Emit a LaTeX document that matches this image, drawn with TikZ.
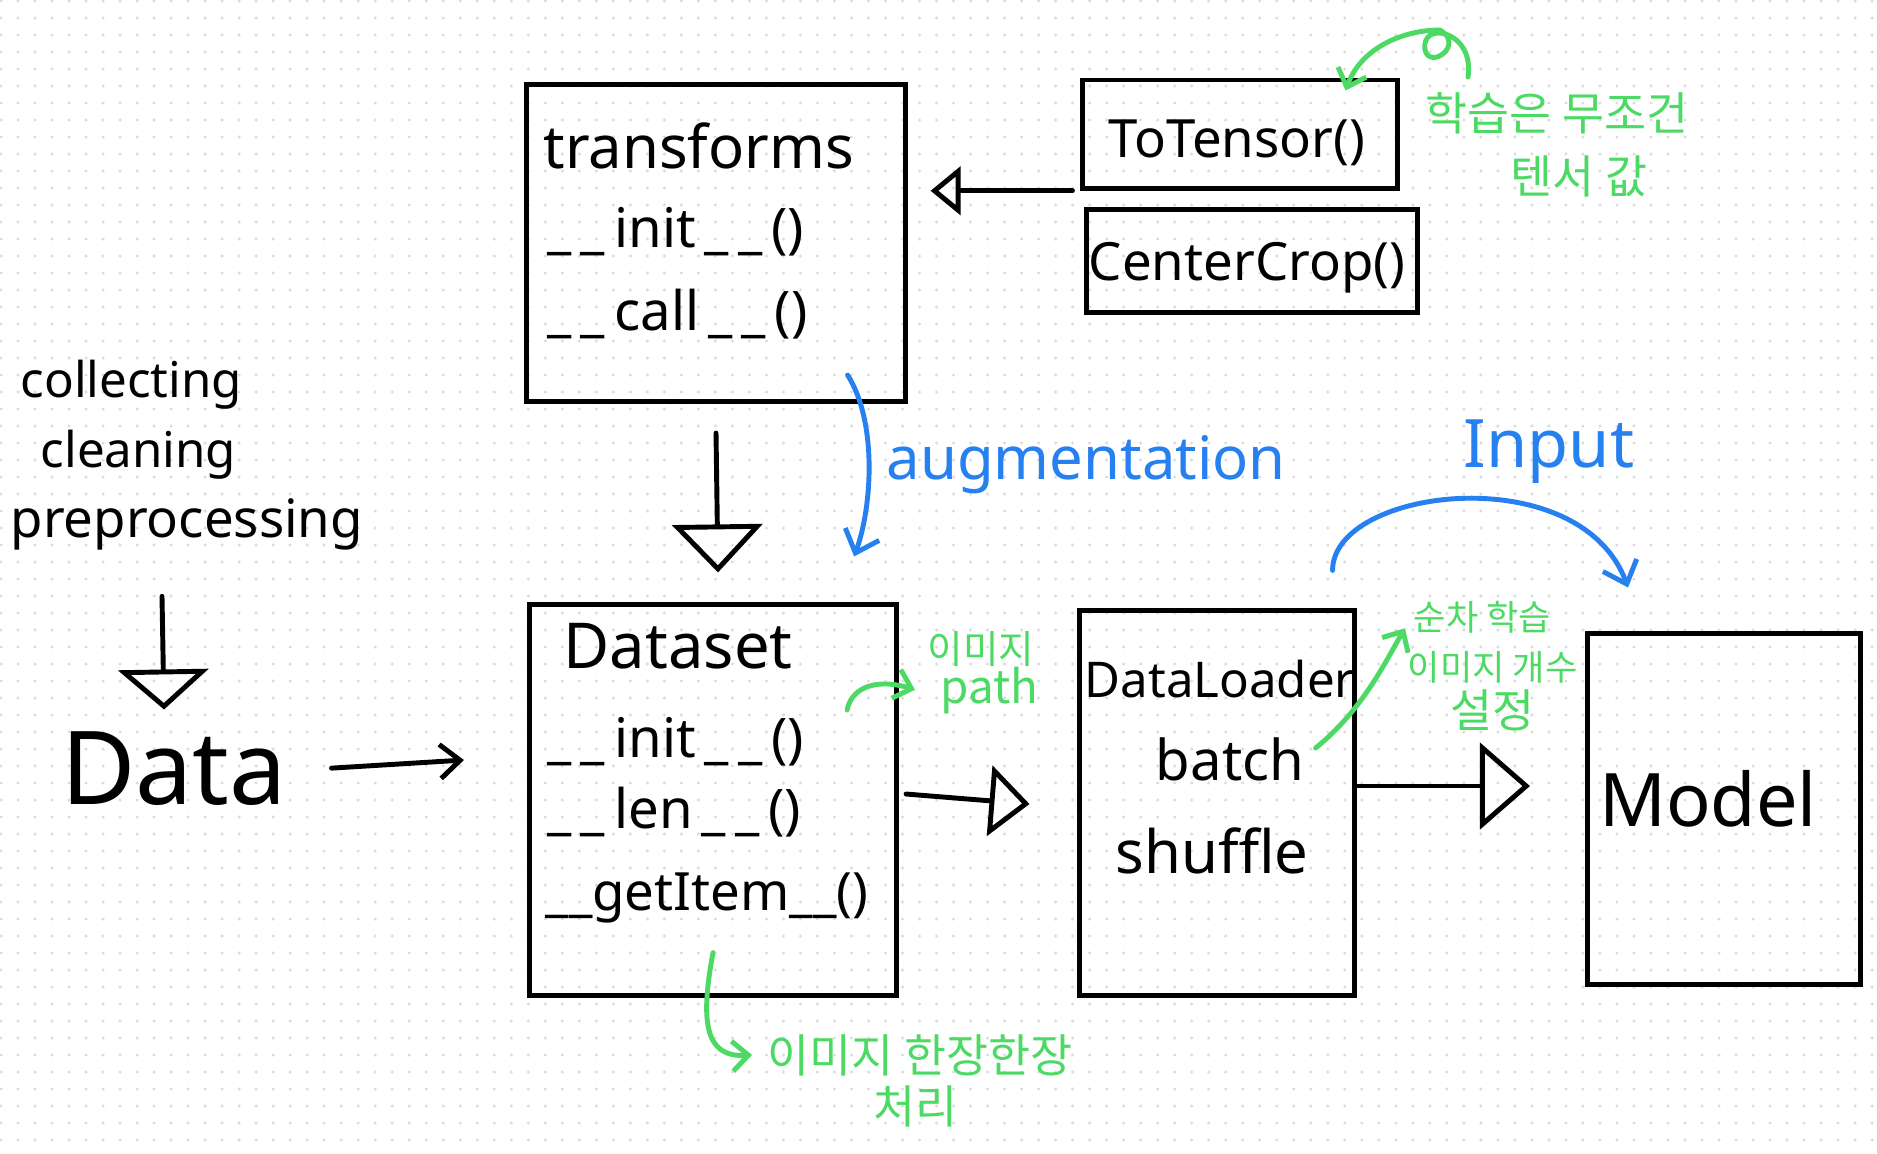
\documentclass[tikz,border=0pt]{standalone}
\usepackage{fontspec}
\setmainfont{Noto Sans}
\newfontfamily\cjk{Noto Sans CJK KR}
\usetikzlibrary{positioning, arrows.meta, calc}
\definecolor{skgreen}{HTML}{4CD964}
\definecolor{skblue}{HTML}{2680F0}
\definecolor{skdot}{HTML}{DCDCDC}

\begin{document}
\begin{tikzpicture}[x=0.01cm, y=-0.01cm,
    bx/.style={draw, line width=1.4pt, inner sep=0pt},
    lbl/.style={inner sep=0pt, font=\fontsize{17}{20}\selectfont},
    mth/.style={inner sep=0pt, anchor=base west, font=\fontsize{15.5}{18}\selectfont},
    kr/.style={inner sep=0pt, anchor=base west, text=skgreen, font=\cjk\fontsize{13}{15}\selectfont},
    sk/.style={line width=1.4pt, line cap=round, line join=round},
    garr/.style={sk, skgreen, -{Straight Barb[length=0.16cm, width=0.3cm]}},
    barr/.style={sk, skblue, -{Straight Barb[length=0.2cm, width=0.36cm]}}]
  \fill[white] (0,0) rectangle (1877,1153);
  \useasboundingbox (0,0) rectangle (1877,1153);
  \foreach \j in {0,...,67}
    \draw[skdot, line width=0.034cm, line cap=round, dash pattern=on 0pt off 0.17cm] (1,17*\j+1) -- (1877,17*\j+1);

  % boxes
  \node[bx, minimum width=3.78cm, minimum height=3.17cm] (tf) at (716,243) {};
  \node[bx, minimum width=3.14cm, minimum height=1.08cm] (tt) at (1240,134) {};
  \node[bx, minimum width=3.30cm, minimum height=1.03cm] (cc) at (1252,261) {};
  \node[bx, minimum width=3.67cm, minimum height=3.90cm] (ds) at (713,800) {};
  \node[bx, minimum width=2.74cm, minimum height=3.84cm] (dl) at (1217,803) {};
  \node[bx, minimum width=2.73cm, minimum height=3.50cm] (md) at (1724,809) {};

  % labels
  \node[lbl, anchor=base west] (tfname) at (543,168) {transforms};
  \node[mth] (tfinit) at (547,247) {\_\,\_\,init\,\_\,\_\,()};
  \node[mth] (tfcall) at (547,330) {\_\,\_\,call\,\_\,\_\,()};
  \node[lbl, anchor=base, font=\fontsize{15}{18}\selectfont] (ttname) at (1237,157) {ToTensor()};
  \node[lbl, anchor=base, font=\fontsize{15}{18}\selectfont] (ccname) at (1247,280) {CenterCrop()};
  \node[lbl, anchor=base west, font=\fontsize{18}{20}\selectfont] (dsname) at (563,668) {Dataset};
  \node[mth] (dsinit) at (547,757) {\_\,\_\,init\,\_\,\_\,()};
  \node[mth] (dslen) at (547,828) {\_\,\_\,len\,\_\,\_\,()};
  \node[mth, font=\fontsize{15}{18}\selectfont] (dsget) at (545,910) {\_\_getItem\_\_()};
  \node[lbl, anchor=base, font=\fontsize{14}{16}\selectfont] (dlname) at (1220,697) {DataLoader};
  \node[lbl, anchor=base, font=\fontsize{16}{18}\selectfont] (dlbatch) at (1230,780) {batch};
  \node[lbl, anchor=base, font=\fontsize{17}{20}\selectfont] (dlshuf) at (1212,873) {shuffle};
  \node[lbl, anchor=base, font=\fontsize{21}{24}\selectfont] (mdname) at (1708,826) {Model};
  \node[lbl, anchor=base, font=\fontsize{29}{32}\selectfont] (data) at (174,804) {Data};
  \node[lbl, anchor=base west, font=\fontsize{14}{16}\selectfont] (col) at (20,397) {collecting};
  \node[lbl, anchor=base west, font=\fontsize{14}{16}\selectfont] (cln) at (40,467) {cleaning};
  \node[lbl, anchor=base west, font=\fontsize{15}{18}\selectfont] (pre) at (10,537) {preprocessing};
  \node[lbl, anchor=base west, text=skblue] (aug) at (886,479) {augmentation};
  \node[lbl, anchor=base west, text=skblue, font=\fontsize{19}{22}\selectfont] (inp) at (1463,467) {Input};

  % notes
  \node[kr] (nta) at (1425,130) {학습은 무조건};
  \node[kr] (ntb) at (1510,193) {텐서 값};
  \node[kr, font=\cjk\fontsize{11}{13}\selectfont] (npa) at (927,663) {이미지};
  \node[kr] (npb) at (940,703) {path};
  \node[kr, font=\cjk\fontsize{10}{12}\selectfont] (nsa) at (1413,630) {순차 학습};
  \node[kr, font=\cjk\fontsize{10}{12}\selectfont] (nsb) at (1407,680) {이미지 개수};
  \node[kr] (nsc) at (1450,727) {설정};
  \node[kr] (nia) at (767,1072) {이미지 한장한장};
  \node[kr] (nib) at (873,1123) {처리};

  % flow
  \coordinate (tc) at ($(tt.south west)!0.5!(cc.north west)$);
  \draw[sk, -{Triangle[open, length=0.3cm, width=0.48cm]}] ($(tc)+(-10,-8)$) -- ($(tf.east |- tc)+(23,-8)$);
  \draw[sk, -{Triangle[open, length=0.48cm, width=0.9cm]}] ($(tf.south)+(0,29)$) -- ($(ds.north)+(5,-30)$);
  \draw[sk, -{Triangle[open, length=0.4cm, width=0.9cm]}] ($(pre.south -| data.north)+(-12,46)$) -- ($(data.north)+(-10,-21)$);
  \draw[sk, -{Straight Barb[length=0.2cm, width=0.34cm]}] ($(data.east)+(44,0)$) -- ($(ds.west)+(-63,-40)$);
  \draw[sk, -{Triangle[open, length=0.4cm, width=0.7cm]}] ($(ds.east)+(7,-6)$) -- ($(dl.west)+(-48,1)$);
  \draw[sk, -{Triangle[open, length=0.5cm, width=0.86cm]}] ($(dl.east)+(0,-17)$) -- ($(md.west |- dl.east)+(-55,-17)$);

  \draw[barr] ($(tf.south east)+(-60,-29)$) .. controls +(30,47) and +(18,-49) .. ($(ds.north east)+(-45,-46)$);
  \draw[barr] ($(dl.north east)+(-24,-38)$) .. controls +(0,-83) and +(-48,-130) .. ($(md.north)+(-96,-44)$);

  \coordinate (ga) at (1468,77);
  \draw[garr] (ga) .. controls (1475,30) and (1420,20) .. (1425,50) .. controls (1430,70) and (1465,45) .. (1440,30) .. controls (1400,30) and (1360,50) .. ($(tt.north east)+(-54,13)$);
  \draw[garr] ($(ds.east)+(-52,-90)$) .. controls +(5,-25) and +(-35,-11) .. ($(npa.south west)+(-12,23)$);
  \draw[garr] ($(dl.east)+(-41,-55)$) .. controls +(47,-38) and +(-20,34) .. ($(nsb.north west)+(-2,-22)$);
  \draw[garr] ($(ds.south)+(0,-45)$) .. controls +(-13,70) and +(-47,3) .. ($(nia.west)+(-15,0)$);
\end{tikzpicture}
\end{document}
